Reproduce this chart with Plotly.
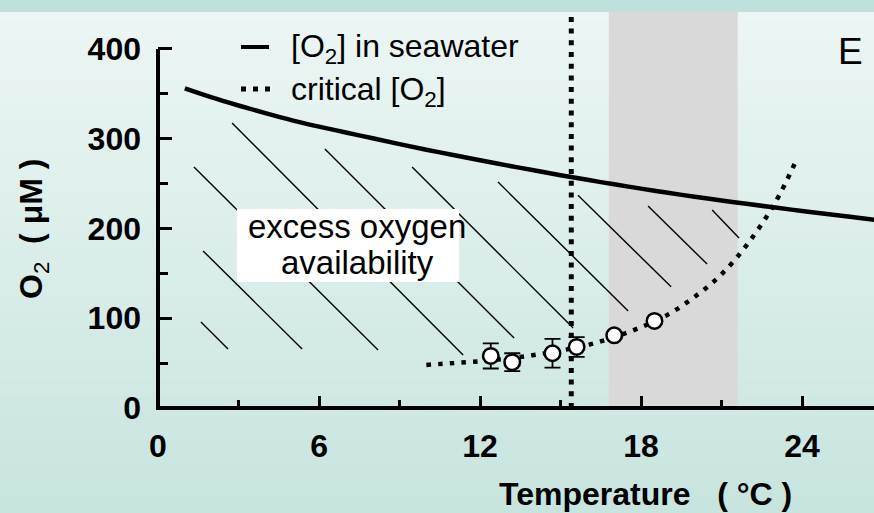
import plotly.graph_objects as go

# ---------------- data ----------------
sw_temp = [1, 2, 3, 4, 5, 6, 7, 8, 9, 10, 11, 12, 13, 14, 15, 16, 17, 18,
           19, 20, 21, 22, 23, 24, 25, 26, 27]
sw_o2 = [356, 346, 337, 328.5, 320.5, 313.5, 307, 300.5, 294, 287.8, 281.8, 276,
         270.3, 264.8, 259.4, 254.2, 249.2, 244.4, 239.8, 235.4, 231.2, 227.2,
         223.3, 219.5, 215.8, 212.2, 208.7]

crit_temp = [10, 11, 12, 13, 14, 15, 16, 17, 18, 19, 20, 21, 22, 23, 23.8]
crit_o2 = [48, 50, 52, 55, 59, 64, 70, 79, 90, 104, 124, 149, 184, 229, 277]

pt_temp = [12.4, 13.2, 14.7, 15.6, 17.0, 18.5]
pt_o2 = [58, 51, 61, 68, 81, 97]
pt_err = [14, 10, 16, 11, 3, 3]

crit_temp_line = 15.4
band_temp = [16.8, 21.6]

x_range = [0, 26.68]
y_range = [0, 441.2]
y_axis_top = 400

# hatch segments: start (x0, y0) -> end (x1, y1)
hatch_x0 = [2.76, 1.34, 1.68, 1.60, 6.22, 9.47, 12.67, 15.65, 18.26, 20.65]
hatch_y0 = [317.5, 268.5, 175, 95.8, 288.6, 268.5, 251.8, 237, 225, 220.6]
hatch_x1 = [11.37, 8.20, 5.37, 2.61, 13.27, 15.47, 17.52, 19.12, 20.46, 21.65]
hatch_y1 = [59, 64.6, 65.7, 65.7, 77.9, 89.1, 108, 135, 160.4, 189.4]

box_x = [2.94, 11.22]
box_y = [140.4, 221.7]

# ---------------- geometry helpers ----------------
W_FIG, H_FIG = 874, 513
L, T, R, B = 158, 12, 0, 105
PW = W_FIG - L - R
PH = H_FIG - T - B


def pxx(px):
    return (px - L) / PW


def pxy(py):
    return (T + PH - py) / PH


FONT = "Arial, 'Liberation Sans', sans-serif"

fig = go.Figure()

# seawater O2 curve
fig.add_trace(go.Scatter(
    x=sw_temp, y=sw_o2, mode="lines", line=dict(color="black", width=4.5, shape="spline"),
    hoverinfo="skip", showlegend=False))

# critical O2 fit curve
fig.add_trace(go.Scatter(
    x=crit_temp, y=crit_o2, mode="lines",
    line=dict(color="black", width=4.5, dash="4.5px,7.2px", shape="spline"),
    hoverinfo="skip", showlegend=False))

# measured points
fig.add_trace(go.Scatter(
    x=pt_temp, y=pt_o2, mode="markers",
    marker=dict(size=15.5, color="white", line=dict(color="black", width=2.5)),
    error_y=dict(type="data", array=pt_err, color="black", thickness=1.8, width=8),
    showlegend=False))

shapes = []
# background gradient
top = (192, 224, 219)
c0 = (236, 246, 244)
c1 = (200, 228, 223)
shapes.append(dict(type="rect", xref="paper", yref="paper", x0=pxx(0), x1=pxx(W_FIG),
                   y0=pxy(T), y1=pxy(0), fillcolor="rgb(%d,%d,%d)" % top,
                   line=dict(width=0), layer="below"))
n = 60
step = (H_FIG - T) / n
for i in range(n):
    f = i / (n - 1)
    col = tuple(round(c0[k] + (c1[k] - c0[k]) * f) for k in range(3))
    ya = T + i * step
    yb = ya + step + 0.6
    shapes.append(dict(type="rect", xref="paper", yref="paper", x0=pxx(0), x1=pxx(W_FIG),
                       y0=pxy(min(yb, H_FIG)), y1=pxy(ya), fillcolor="rgb(%d,%d,%d)" % col,
                       line=dict(width=0), layer="below"))

# grey band
shapes.append(dict(type="rect", xref="x", yref="paper", x0=band_temp[0], x1=band_temp[1],
                   y0=0, y1=1, fillcolor="#d9d9d9", line=dict(width=0), layer="below"))

# hatch lines
for a, b, c, d in zip(hatch_x0, hatch_y0, hatch_x1, hatch_y1):
    shapes.append(dict(type="line", xref="x", yref="y", x0=a, y0=b, x1=c, y1=d,
                       line=dict(color="black", width=1.4), layer="below"))

# label box
shapes.append(dict(type="rect", xref="x", yref="y", x0=box_x[0], x1=box_x[1],
                   y0=box_y[0], y1=box_y[1], fillcolor="white", line=dict(width=0),
                   layer="below"))

# vertical dotted line (critical temperature)
shapes.append(dict(type="line", xref="x", yref="paper", x0=crit_temp_line, x1=crit_temp_line,
                   y0=0, y1=1, line=dict(color="black", width=5, dash="5px,6.7px"),
                   layer="below"))

# axis lines
shapes.append(dict(type="line", xref="paper", yref="paper", x0=pxx(L - 2), x1=pxx(W_FIG + 5),
                   y0=0, y1=0, line=dict(color="black", width=4)))
shapes.append(dict(type="line", xref="paper", yref="paper", x0=0, x1=0,
                   y0=pxy(T + PH + 2), y1=y_axis_top / y_range[1],
                   line=dict(color="black", width=4)))

# legend samples
shapes.append(dict(type="line", xref="paper", yref="paper", x0=pxx(241), x1=pxx(269),
                   y0=pxy(47), y1=pxy(47), line=dict(color="black", width=4)))
shapes.append(dict(type="line", xref="paper", yref="paper", x0=pxx(241), x1=pxx(272),
                   y0=pxy(89), y1=pxy(89), line=dict(color="black", width=5, dash="5px,7px")))

annotations = [
    dict(text="[O<sub>2</sub>] in seawater", x=pxx(289), y=pxy(48), xref="paper", yref="paper",
         xanchor="left", yanchor="middle", showarrow=False,
         font=dict(family=FONT, size=32, color="black")),
    dict(text="critical [O<sub>2</sub>]", x=pxx(289), y=pxy(91), xref="paper", yref="paper",
         xanchor="left", yanchor="middle", showarrow=False,
         font=dict(family=FONT, size=32, color="black")),
    dict(text="E", x=pxx(850), y=pxy(52), xref="paper", yref="paper",
         xanchor="center", yanchor="middle", showarrow=False,
         font=dict(family=FONT, size=37, color="black")),
    dict(text="excess oxygen", x=pxx(357), y=pxy(226), xref="paper", yref="paper",
         xanchor="center", yanchor="middle", showarrow=False,
         font=dict(family=FONT, size=33, color="black")),
    dict(text="availability", x=pxx(357), y=pxy(262), xref="paper", yref="paper",
         xanchor="center", yanchor="middle", showarrow=False,
         font=dict(family=FONT, size=33, color="black")),
    dict(text="<b>Temperature\u00a0\u00a0\u00a0( °C )</b>", x=pxx(645), y=pxy(494),
         xref="paper", yref="paper", xanchor="center", yanchor="middle", showarrow=False,
         font=dict(family=FONT, size=32, color="black")),
    dict(text="<b>O</b><sub>2</sub><b>\u00a0\u00a0( μM )</b>", x=pxx(33), y=pxy(229),
         xref="paper", yref="paper", xanchor="center", yanchor="middle", showarrow=False,
         textangle=-90, font=dict(family=FONT, size=32, color="black")),
]

tickfont = dict(family=FONT, size=32, color="black", weight="bold")

fig.update_layout(
    width=W_FIG, height=H_FIG,
    margin=dict(l=L, r=R, t=T, b=B, pad=0),
    paper_bgcolor="rgb(200,228,223)",
    plot_bgcolor="rgba(0,0,0,0)",
    shapes=shapes,
    annotations=annotations,
    showlegend=False,
    xaxis=dict(range=x_range, tick0=0, dtick=6, ticks="inside", ticklen=12, tickwidth=3,
               tickcolor="black", showgrid=False, zeroline=False, showline=False,
               tickfont=tickfont, ticklabelstandoff=16, automargin=False,
               minor=dict(ticks="inside", ticklen=8, tickwidth=3, dtick=3, tick0=0,
                          tickcolor="black", showgrid=False)),
    yaxis=dict(range=y_range, tick0=0, dtick=100, ticks="inside", ticklen=14, tickwidth=3,
               tickcolor="black", showgrid=False, zeroline=False, showline=False,
               tickfont=tickfont, ticklabelstandoff=16, automargin=False,
               minor=dict(ticks="inside", ticklen=10, tickwidth=3, dtick=50, tick0=0,
                          tickcolor="black", showgrid=False)),
)

fig.write_html("out.html", config={"displayModeBar": False},
               post_script="document.body.style.margin='0px';document.body.style.overflow='hidden';")
